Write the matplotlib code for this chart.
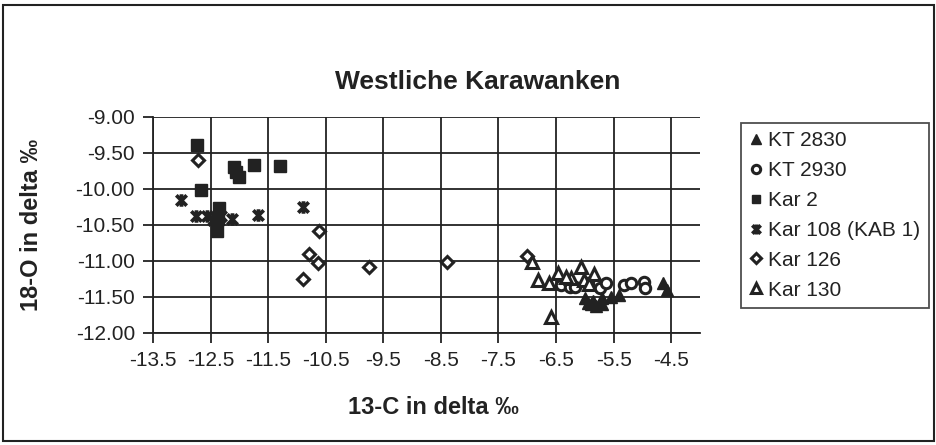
import numpy as np
import matplotlib
matplotlib.use("Agg")
import matplotlib.pyplot as plt
from matplotlib.path import Path
from matplotlib.patches import Rectangle

plt.rcParams["font.family"] = ["Liberation Sans", "DejaVu Sans"]

# 13-C (x) and 18-O (y) values per sample series
kt2830_x = [-6.0, -5.95, -5.9, -5.85, -5.8, -5.7, -5.7, -5.55, -5.4, -4.64, -4.58]
kt2830_y = [-11.52, -11.58, -11.6, -11.55, -11.62, -11.52, -11.6, -11.5, -11.47, -11.31, -11.4]

kt2930_x = [-6.42, -6.26, -6.17, -5.94, -5.74, -5.64, -5.32, -5.19, -4.97, -4.96]
kt2930_y = [-11.33, -11.36, -11.36, -11.31, -11.38, -11.30, -11.33, -11.31, -11.29, -11.37]

kar2_x = [-12.74, -12.67, -12.1, -12.05, -12.0, -11.74, -11.3, -12.35, -12.37, -12.38]
kar2_y = [-9.39, -10.01, -9.70, -9.76, -9.84, -9.67, -9.68, -10.27, -10.42, -10.58]

kar108_x = [-13.01, -12.75, -12.56, -12.46, -12.32, -12.13, -11.67, -10.89]
kar108_y = [-10.15, -10.38, -10.38, -10.43, -10.38, -10.42, -10.36, -10.25]

kar126_x = [-12.72, -10.62, -10.79, -10.63, -10.89, -9.75, -8.4, -7.01]
kar126_y = [-9.60, -10.59, -10.90, -11.03, -11.25, -11.09, -11.01, -10.93]

kar130_x = [-6.91, -6.81, -6.62, -6.47, -6.58, -6.24, -6.07, -6.01, -5.84, -5.93, -6.32]
kar130_y = [-11.01, -11.26, -11.30, -11.16, -11.78, -11.23, -11.08, -11.26, -11.18, -11.32, -11.22]

x_ticks = [-13.5, -12.5, -11.5, -10.5, -9.5, -8.5, -7.5, -6.5, -5.5, -4.5]
y_ticks = [-9.0, -9.5, -10.0, -10.5, -11.0, -11.5, -12.0]

# Excel-style asterisk: an X plus a vertical bar
star = Path([(-1, -1), (1, 1), (-1, 1), (1, -1), (0, -1.2), (0, 1.2)],
            [Path.MOVETO, Path.LINETO, Path.MOVETO, Path.LINETO, Path.MOVETO, Path.LINETO])

ink = "#222222"
fig = plt.figure(figsize=(9.37, 4.45), dpi=100)
ax = fig.add_axes([153 / 937, 1 - 333 / 445, 547 / 937, 216 / 445])

series = [
    ("KT 2830", kt2830_x, kt2830_y, dict(marker="^", mfc=ink, mec=ink, ms=8.5)),
    ("KT 2930", kt2930_x, kt2930_y, dict(marker="o", mfc="white", mec=ink, ms=7.5, mew=2.2)),
    ("Kar 2", kar2_x, kar2_y, dict(marker="s", mfc=ink, mec=ink, ms=8)),
    ("Kar 108 (KAB 1)", kar108_x, kar108_y, dict(marker=star, mfc="none", mec=ink, ms=9, mew=2.7)),
    ("Kar 126", kar126_x, kar126_y, dict(marker="D", mfc="white", mec=ink, ms=6.5, mew=2.2)),
    ("Kar 130", kar130_x, kar130_y, dict(marker="^", mfc="white", mec=ink, ms=8.5, mew=2.2)),
]
for name, xs, ys, st in series:
    ax.plot(xs, ys, ls="none", label=name, zorder=3, **st)

ax.set_xlim(-13.5, -4.0)
ax.set_ylim(-12.0, -9.0)
ax.set_xticks(x_ticks)
ax.set_xticklabels([f"{v:g}" for v in x_ticks])
ax.set_yticks(y_ticks)
ax.set_yticklabels([f"{v:.2f}" for v in y_ticks])
ax.grid(True, color=ink, linewidth=1.3)
ax.set_axisbelow(True)
for s in ["top", "right"]:
    ax.spines[s].set_visible(False)
for s in ["left", "bottom"]:
    ax.spines[s].set_linewidth(1.3)
    ax.spines[s].set_color(ink)
ax.tick_params(direction="out", length=7, width=1.3, color=ink,
               labelsize=15, pad=6, labelcolor=ink)

fig.text(478 / 937, 1 - 82 / 445, "Westliche Karawanken", ha="center", va="center",
         fontsize=19, fontweight="bold", color=ink)
fig.text(433 / 937, 1 - 407 / 445, "13-C in delta ‰", ha="center", va="center",
         fontsize=17, fontweight="bold", color=ink)
fig.text(32 / 937, 1 - 225 / 445, "18-O in delta ‰", ha="center", va="center",
         rotation=90, fontsize=17, fontweight="bold", color=ink)

handles, labels = ax.get_legend_handles_labels()
leg = fig.legend(handles, labels, loc="upper left", bbox_to_anchor=(741 / 937, 1 - 123 / 445),
                 borderaxespad=0, fontsize=15, frameon=True, fancybox=False, handlelength=0.6,
                 handletextpad=0.3, labelspacing=0.52, borderpad=0.4, markerscale=0.8)
leg.get_frame().set_edgecolor(ink)
leg.get_frame().set_linewidth(1.3)
for t in leg.get_texts():
    t.set_color(ink)

# chart-area border
fig.patches.append(Rectangle((3 / 937, 4 / 445), 931 / 937, 436 / 445, transform=fig.transFigure,
                             fill=False, edgecolor=ink, linewidth=1.5))

fig.savefig("out.png", dpi=100)
